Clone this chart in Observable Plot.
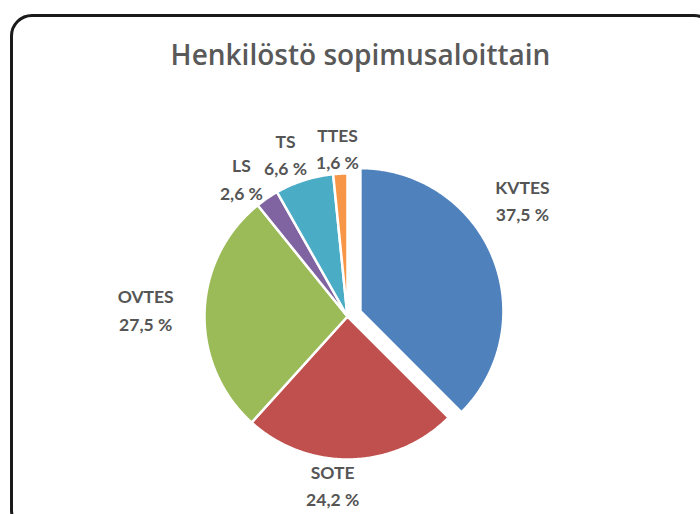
<!DOCTYPE html>
<html>
<head>
<meta charset="utf-8">
<script src="https://cdn.jsdelivr.net/npm/d3@7"></script>
<script src="https://cdn.jsdelivr.net/npm/@observablehq/plot@0.6"></script>
<style>
  html, body { margin: 0; padding: 0; background: #fff; }
  #wrap { position: relative; width: 700px; height: 514px; overflow: hidden; background: #fff; }
  #border { position: absolute; left: 10px; top: 14px; width: 700px; height: 512px;
            border: 3px solid #1a1a1a; border-radius: 22px; pointer-events: none; }
  #chart { position: absolute; left: 0; top: 0; }
</style>
</head>
<body>
<div id="wrap"><div id="chart"></div><div id="border"></div></div>
<script>
// ---- data ----
const title = "Henkilöstö sopimusaloittain";
const categories = ["KVTES", "SOTE", "OVTES", "LS", "TS", "TTES"];
const shares = [37.5, 24.2, 27.5, 2.6, 6.6, 1.6];
const colors = ["#4F81BD", "#C0504D", "#9BBB59", "#8064A2", "#4BACC6", "#F79646"];

// ---- layout ----
const W = 700, H = 514;
const cx = 347, cy = 316, R = 143;
const explode = [14, 0, 0, 0, 0, 0];
const labelAngleShift = [-11.5, 6.5, 0.7, -3.1, -3.1, -0.5]; // degrees
const labelDist = [211, 168, 202, 175, 175, 170];

const data = categories.map((name, i) => ({name, value: shares[i], i}));
const arcs = d3.pie().sort(null).value(d => d.value).startAngle(0).endAngle(2 * Math.PI)(data);

const fmt = v => v.toFixed(1).replace(".", ",") + " %";

const slicePts = [];
const labelPts = [];
arcs.forEach(a => {
  const d = a.data;
  const mid = (a.startAngle + a.endAngle) / 2;
  const ox = cx + explode[d.i] * Math.sin(mid);
  const oy = cy - explode[d.i] * Math.cos(mid);
  slicePts.push({name: d.name, x: ox, y: oy});
  const n = Math.max(2, Math.ceil((a.endAngle - a.startAngle) / (Math.PI / 360)));
  for (let k = 0; k <= n; ++k) {
    const t = a.startAngle + (a.endAngle - a.startAngle) * k / n;
    slicePts.push({name: d.name, x: ox + R * Math.sin(t), y: oy - R * Math.cos(t)});
  }
  slicePts.push({name: d.name, x: ox, y: oy});
  const la = mid + labelAngleShift[d.i] * Math.PI / 180;
  labelPts.push({
    name: d.name,
    text: d.name + "\n" + fmt(d.value),
    x: cx + labelDist[d.i] * Math.sin(la),
    y: cy - labelDist[d.i] * Math.cos(la)
  });
});

const chart = Plot.plot({
  width: W,
  height: H,
  margin: 0,
  style: {background: "transparent"},
  x: {domain: [0, W], range: [0, W], axis: null},
  y: {domain: [0, H], range: [0, H], axis: null},
  color: {domain: categories, range: colors},
  marks: [
    Plot.line(slicePts, {x: "x", y: "y", z: "name", fill: "name", stroke: "white",
      strokeWidth: 2.5, strokeLinejoin: "round", curve: "linear"}),
    Plot.text(labelPts, {x: "x", y: "y", text: "text", fill: "#555555", fontSize: 17.5,
      fontWeight: "bold", fontFamily: "Lato", lineHeight: 1.55, lineAnchor: "middle", textAnchor: "middle"}),
    Plot.text([title], {frameAnchor: "top", dx: 10, dy: 56, text: d => d, fill: "#595959",
      fontSize: 28, fontWeight: 600, fontFamily: "Open Sans", lineAnchor: "middle"})
  ]
});
document.getElementById("chart").appendChild(chart);
</script>
</body>
</html>
